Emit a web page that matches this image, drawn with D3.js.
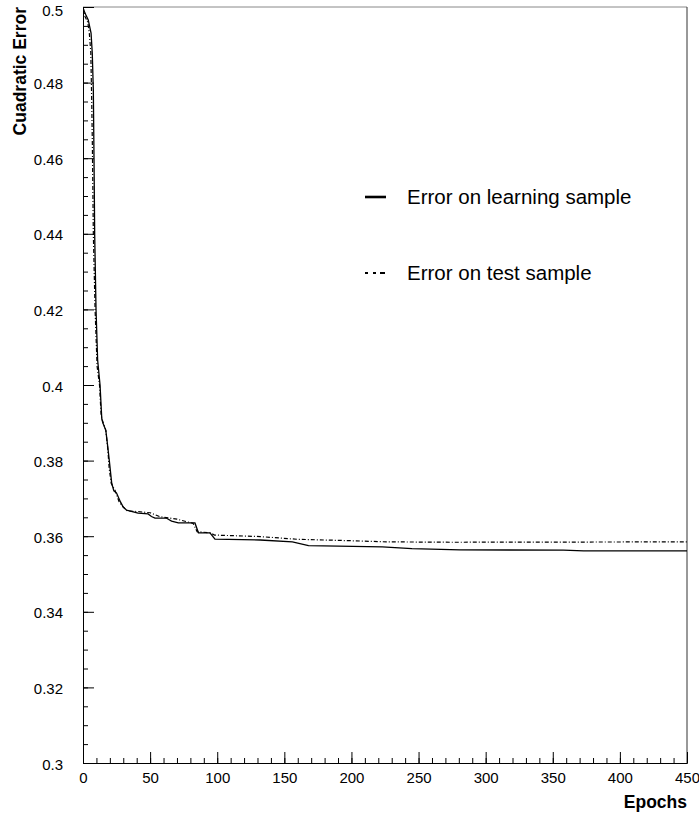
<!DOCTYPE html>
<html>
<head>
<meta charset="utf-8">
<script src="https://cdn.jsdelivr.net/npm/d3@7"></script>
<style>
  body { margin: 0; background: #fff; }
  svg { display: block; font-family: 'Liberation Sans', Arial, sans-serif; }
</style>
</head>
<body>
<div id="chart"></div>
<script>
// learning sample error
const learnEpochs = [0, 0.5, 2, 3.9, 6, 6.9, 7.7, 8.2, 8.7, 9.7, 10.9, 12.7, 14, 15, 17, 18, 19.6, 21.4, 23, 25, 28, 30, 32.5, 41, 48.5, 51, 53.6, 62, 66, 71, 83.4, 86, 94.6, 98.3, 132, 156, 168, 223, 245, 281, 358, 373, 450]
const learnError = [0.5, 0.4992, 0.498, 0.4966, 0.4931, 0.4878, 0.478, 0.46, 0.44, 0.42, 0.4066, 0.4, 0.391, 0.3898, 0.388, 0.385, 0.38, 0.374, 0.372, 0.3714, 0.369, 0.3677, 0.3669, 0.3661, 0.3659, 0.3652, 0.3648, 0.3648, 0.364, 0.3635, 0.3635, 0.3609, 0.3609, 0.3592, 0.359, 0.3585, 0.3575, 0.3572, 0.3567, 0.3564, 0.3563, 0.3561, 0.3561]

// test sample error
const testEpochs = [0, 1.5, 3.5, 4.7, 5.8, 6.5, 7, 7.7, 9, 10.5, 12.3, 13.5, 15, 17, 18.5, 19.5, 21, 24, 27, 30, 33, 41, 50, 57, 70, 82, 85, 94.6, 98, 132, 159, 200, 226, 276, 450]
const testError = [0.5, 0.4975, 0.496, 0.4931, 0.488, 0.475, 0.463, 0.44, 0.42, 0.405, 0.4, 0.392, 0.39, 0.388, 0.383, 0.378, 0.374, 0.372, 0.369, 0.3677, 0.3667, 0.3665, 0.3662, 0.3652, 0.3645, 0.3634, 0.3612, 0.3609, 0.3603, 0.3599, 0.3592, 0.3588, 0.3585, 0.3584, 0.3585]

const xTicks = [0, 50, 100, 150, 200, 250, 300, 350, 400, 450]
const yTicks = [0.3, 0.32, 0.34, 0.36, 0.38, 0.4, 0.42, 0.44, 0.46, 0.48, 0.5]
const legendLabels = ['Error on learning sample', 'Error on test sample']

const width = 699
const height = 813
const plotLeft = 83, plotRight = 687, plotTop = 7, plotBottom = 763

const svg = d3.select('#chart').append('svg').attr('width', width).attr('height', height)

const x = d3.scaleLinear().domain([0, 450]).range([plotLeft, plotRight])
const y = d3.scaleLinear().domain([0.3, 0.5]).range([plotBottom, plotTop])

svg.append('defs').append('clipPath').attr('id', 'plot')
  .append('rect').attr('x', plotLeft).attr('y', plotTop).attr('width', plotRight - plotLeft).attr('height', plotBottom - plotTop)

// frame on top and right
svg.append('line').attr('x1', plotLeft).attr('x2', plotRight).attr('y1', plotTop).attr('y2', plotTop)
  .attr('stroke', '#888').attr('stroke-width', 1)
svg.append('line').attr('x1', plotRight).attr('x2', plotRight).attr('y1', plotTop).attr('y2', plotBottom)
  .attr('stroke', '#333').attr('stroke-width', 1)

// minor ticks
svg.append('g').attr('transform', `translate(0,${plotBottom})`)
  .call(d3.axisBottom(x).tickValues(d3.range(0, 451, 10)).tickSize(-5).tickSizeOuter(0).tickFormat(''))
svg.append('g').attr('transform', `translate(${plotLeft},0)`)
  .call(d3.axisLeft(y).tickValues(d3.range(0, 41).map(i => 0.3 + i * 0.005)).tickSize(-5).tickSizeOuter(0).tickFormat(''))

// major ticks and labels
svg.append('g').attr('transform', `translate(0,${plotBottom})`)
  .call(d3.axisBottom(x).tickValues(xTicks).tickSize(-11).tickSizeOuter(0).tickPadding(9).tickFormat(d3.format('d')))
const yAxis = svg.append('g').attr('transform', `translate(${plotLeft},0)`)
  .call(d3.axisLeft(y).tickValues(yTicks).tickSize(-11).tickSizeOuter(0).tickPadding(20).tickFormat(d3.format('~g')))

svg.selectAll('.tick text').attr('font-size', 15).attr('fill', '#000').attr('font-family', "'Liberation Sans', Arial, sans-serif")
yAxis.selectAll('.tick text').attr('dy', d => d === 0.5 ? '0.55em' : '0.4em')
svg.selectAll('.domain').attr('stroke', '#000')
svg.selectAll('.tick line').attr('stroke', '#000')

// axis titles
svg.append('text').attr('x', plotRight).attr('y', 808).attr('text-anchor', 'end')
  .attr('font-size', 17.5).attr('font-weight', 'bold').text('Epochs')
svg.append('text').attr('transform', 'translate(26,7) rotate(-90)').attr('text-anchor', 'end')
  .attr('font-size', 17.5).attr('font-weight', 'bold').text('Cuadratic Error')

const line = d3.line().x(d => x(d[0])).y(d => y(d[1]))

const plot = svg.append('g').attr('clip-path', 'url(#plot)')
plot.append('path').datum(testEpochs.map((e, i) => [e, testError[i]]))
  .attr('fill', 'none').attr('stroke', '#000').attr('stroke-width', 1.2)
  .attr('stroke-dasharray', '4 2 1 2').attr('d', line)
plot.append('path').datum(learnEpochs.map((e, i) => [e, learnError[i]]))
  .attr('fill', 'none').attr('stroke', '#000').attr('stroke-width', 1.3).attr('d', line)

// legend
const legend = svg.append('g')
const styles = [{ w: 2.6, dash: null }, { w: 2, dash: '3 5 3 4 5 99' }]
legendLabels.forEach((lab, i) => {
  const ly = 197 + i * 76
  legend.append('line').attr('x1', 365).attr('x2', 386).attr('y1', ly).attr('y2', ly)
    .attr('stroke', '#000').attr('stroke-width', styles[i].w)
    .attr('stroke-dasharray', styles[i].dash)
  legend.append('text').attr('x', 407).attr('y', ly + 7).attr('font-size', 20.5).text(lab)
})
</script>
</body>
</html>
